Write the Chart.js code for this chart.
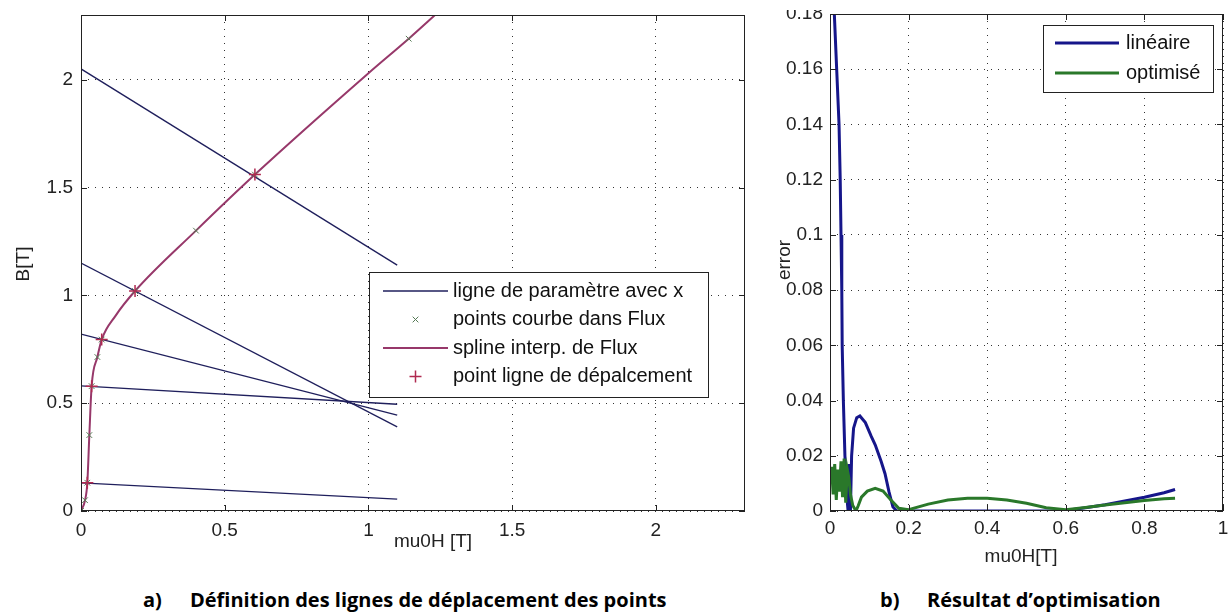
<!DOCTYPE html>
<html>
<head>
<meta charset="utf-8">
<script src="https://cdn.jsdelivr.net/npm/chart.js@4.4.1/dist/chart.umd.min.js"></script>
<style>
body{margin:0;background:#fff;width:1231px;height:613px;overflow:hidden;position:relative;}
#chartA{position:absolute;left:0;top:0;}
#chartB{position:absolute;left:760px;top:10px;}
.cap{position:absolute;top:591px;font-family:"Open Sans",sans-serif;font-weight:bold;font-size:20px;line-height:18px;color:#000;white-space:nowrap;}
</style>
</head>
<body>
<canvas id="chartA" width="760" height="570"></canvas>
<canvas id="chartB" width="471" height="560"></canvas>
<div class="cap" style="left:143px">a)</div>
<div class="cap" style="left:190px">Définition des lignes de déplacement des points</div>
<div class="cap" style="left:880px">b)</div>
<div class="cap" style="left:927px">Résultat d’optimisation</div>
<script>
// ---- a) displacement lines on the B(mu0H) curve ----
const xTicksA = [0, 0.5, 1, 1.5, 2];
const yTicksA = [0, 0.5, 1, 1.5, 2];

// straight parameter lines, all from mu0H = 0 to 1.1
const lineX = [0, 1.1];
const lineB = [
  [2.05, 1.14],
  [1.15, 0.39],
  [0.82, 0.445],
  [0.58, 0.495],
  [0.13, 0.055]
];

// spline through the flux curve
const splineX = [0, 0.014, 0.022, 0.029, 0.037, 0.057, 0.072, 0.12, 0.188, 0.4, 0.605, 1.0, 1.14, 1.24];
const splineB = [0, 0.05, 0.131, 0.352, 0.579, 0.714, 0.795, 0.905, 1.02, 1.30, 1.56, 2.03, 2.19, 2.31];

// curve points (x markers)
const fluxX = [0, 0.014, 0.022, 0.029, 0.037, 0.057, 0.072, 0.188, 0.4, 0.605, 1.14];
const fluxB = [0, 0.05, 0.131, 0.352, 0.579, 0.714, 0.795, 1.02, 1.30, 1.56, 2.19];

// where each parameter line meets the curve (+ markers)
const moveX = [0.022, 0.037, 0.072, 0.188, 0.605];
const moveB = [0.131, 0.579, 0.795, 1.02, 1.56];

// ---- b) error of the two fits ----
const xTicksB = [0, 0.2, 0.4, 0.6, 0.8, 1];
const yTicksB = [0, 0.02, 0.04, 0.06, 0.08, 0.1, 0.12, 0.14, 0.16, 0.18];

const linX = [0.004, 0.011, 0.017, 0.023, 0.026, 0.028, 0.030, 0.031, 0.034, 0.038, 0.043, 0.046, 0.048, 0.050, 0.052, 0.055, 0.060, 0.068, 0.076, 0.090, 0.105, 0.115, 0.130, 0.140, 0.150, 0.160, 0.170, 0.30, 0.45, 0.58, 0.60, 0.65, 0.70, 0.75, 0.80, 0.85, 0.878];
const linErr = [0.185, 0.18, 0.16, 0.14, 0.12, 0.10, 0.08, 0.06, 0.04, 0.02, 0.005, 0, 0.017, 0, 0, 0.02, 0.03, 0.0338, 0.0344, 0.032, 0.027, 0.024, 0.018, 0.0135, 0.007, 0.0015, 0, 0, 0, 0, 0.0002, 0.0012, 0.0023, 0.0036, 0.005, 0.0066, 0.0078];

const optX = [0, 0.004, 0.008, 0.012, 0.016, 0.020, 0.024, 0.028, 0.032, 0.036, 0.040, 0.044, 0.048, 0.052, 0.058, 0.066, 0.072, 0.080, 0.095, 0.115, 0.135, 0.155, 0.175, 0.20, 0.25, 0.30, 0.35, 0.40, 0.45, 0.50, 0.55, 0.60, 0.65, 0.70, 0.75, 0.80, 0.85, 0.878];
const optErr = [0.011, 0.016, 0.006, 0.017, 0.004, 0.015, 0.007, 0.018, 0.005, 0.019, 0.003, 0.015, 0.012, 0.006, 0.002, 0, 0.002, 0.005, 0.0072, 0.0082, 0.0072, 0.004, 0.001, 0.0005, 0.0025, 0.004, 0.0046, 0.0046, 0.004, 0.0028, 0.0012, 0.0005, 0.0013, 0.0022, 0.003, 0.0038, 0.0044, 0.0046];

const pts = (xs, ys) => xs.map((x, i) => ({x: x, y: ys[i]}));

Chart.defaults.font.family = '"Liberation Sans", Arial, sans-serif';
Chart.defaults.font.size = 19;
Chart.defaults.color = '#222';

function drawMarker(ctx, style, x, y, r) {
  ctx.beginPath();
  if (style === 'cross') {
    ctx.moveTo(x - r, y); ctx.lineTo(x + r, y);
    ctx.moveTo(x, y - r); ctx.lineTo(x, y + r);
  } else {
    const d = r * 0.7071;
    ctx.moveTo(x - d, y - d); ctx.lineTo(x + d, y + d);
    ctx.moveTo(x - d, y + d); ctx.lineTo(x + d, y - d);
  }
  ctx.stroke();
}

// box round the plot area, ticks pointing inwards, axis titles and boxed legend
const matlabAxes = {
  id: 'matlabAxes',
  afterDraw(chart, args, opts) {
    const {ctx, chartArea: a, scales: {x, y}} = chart;
    ctx.save();
    ctx.strokeStyle = '#222';
    ctx.lineWidth = 1;
    ctx.strokeRect(a.left + 0.5, a.top + 0.5, a.right - a.left - 1, a.bottom - a.top - 1);
    ctx.beginPath();
    x.ticks.forEach(t => {
      const px = Math.round(x.getPixelForValue(t.value)) + 0.5;
      ctx.moveTo(px, a.bottom); ctx.lineTo(px, a.bottom - 6);
      ctx.moveTo(px, a.top); ctx.lineTo(px, a.top + 6);
    });
    y.ticks.forEach(t => {
      const py = Math.round(y.getPixelForValue(t.value)) + 0.5;
      ctx.moveTo(a.left, py); ctx.lineTo(a.left + 6, py);
      ctx.moveTo(a.right, py); ctx.lineTo(a.right - 6, py);
    });
    ctx.stroke();

    // axis titles
    ctx.fillStyle = '#222';
    ctx.font = '19px "Liberation Sans", Arial, sans-serif';
    ctx.textAlign = 'center';
    ctx.textBaseline = 'middle';
    opts.titles.forEach(t => {
      ctx.save();
      ctx.translate(t.x, t.y);
      if (t.rotate) ctx.rotate(-Math.PI / 2);
      ctx.fillText(t.text, 0, 0);
      ctx.restore();
    });

    // legend
    const L = opts.legend;
    ctx.fillStyle = '#fff';
    ctx.fillRect(L.box[0], L.box[1], L.box[2] - L.box[0], L.box[3] - L.box[1]);
    ctx.strokeStyle = '#222';
    ctx.lineWidth = 1;
    ctx.strokeRect(L.box[0] + 0.5, L.box[1] + 0.5, L.box[2] - L.box[0], L.box[3] - L.box[1]);
    ctx.font = L.font;
    ctx.textAlign = 'left';
    L.items.forEach((it, i) => {
      const ds = chart.data.datasets[it.ds];
      const ry = L.rows[i];
      if (it.kind === 'line') {
        ctx.strokeStyle = ds.borderColor;
        ctx.lineWidth = ds.borderWidth;
        ctx.beginPath();
        ctx.moveTo(L.sample[0], ry); ctx.lineTo(L.sample[1], ry);
        ctx.stroke();
      } else {
        ctx.strokeStyle = ds.pointBorderColor;
        ctx.lineWidth = ds.pointBorderWidth;
        drawMarker(ctx, ds.pointStyle, (L.sample[0] + L.sample[1]) / 2, ry, ds.pointRadius);
      }
      ctx.fillStyle = '#111';
      ctx.fillText(ds.label, L.textX, ry);
    });
    ctx.restore();
  }
};

function axis(min, max, ticks, size, pad) {
  return {
    type: 'linear', min: min, max: max,
    afterBuildTicks: s => { s.ticks = ticks.map(v => ({value: v})); },
    afterFit: s => {
      if (s.isHorizontal()) s.height = size; else s.width = size;
      s.paddingLeft = s.paddingRight = s.paddingTop = s.paddingBottom = 0;
    },
    grid: {color: '#333', lineWidth: 1, drawTicks: false},
    border: {display: false, dash: [1, 6]},
    ticks: {padding: pad, autoSkip: false, maxRotation: 0, callback: v => String(v)}
  };
}

const navy = '#1f1f5c';
const lineSets = lineB.map(b => ({
  label: 'ligne de paramètre avec x',
  data: pts(lineX, b),
  showLine: true, borderColor: navy, borderWidth: 1.3, pointRadius: 0, order: 3
}));

new Chart(document.getElementById('chartA'), {
  type: 'scatter',
  data: {
    datasets: [
      ...lineSets,
      {label: 'points courbe dans Flux', data: pts(fluxX, fluxB), showLine: false,
       pointStyle: 'crossRot', pointRadius: 4, pointBorderWidth: 1, pointBorderColor: '#557a55', order: 1},
      {label: 'spline interp. de Flux', data: pts(splineX, splineB), showLine: true,
       cubicInterpolationMode: 'monotone', borderColor: '#97386a', borderWidth: 2, pointRadius: 0, order: 2},
      {label: 'point ligne de dépalcement', data: pts(moveX, moveB), showLine: false,
       pointStyle: 'cross', pointRadius: 6, pointBorderWidth: 1.5, pointBorderColor: '#b02a50', order: 0}
    ]
  },
  options: {
    responsive: false, animation: false, events: [],
    layout: {padding: {left: 0, top: 15, right: 15, bottom: 0}},
    scales: {
      x: axis(0, 2.31, xTicksA, 59, 8),
      y: axis(0, 2.3, yTicksA, 81, 8)
    },
    plugins: {
      legend: {display: false}, tooltip: {enabled: false},
      matlabAxes: {
        titles: [
          {text: 'B[T]', x: 24, y: 264, rotate: true},
          {text: 'mu0H [T]', x: 433, y: 542}
        ],
        legend: {
          box: [369, 272, 708, 397], rows: [291, 319.5, 348, 376.5],
          sample: [383, 448], textX: 453, font: '20px "Liberation Sans", Arial, sans-serif',
          items: [{ds: 0, kind: 'line'}, {ds: 5, kind: 'point'}, {ds: 6, kind: 'line'}, {ds: 7, kind: 'point'}]
        }
      }
    }
  },
  plugins: [matlabAxes]
});

new Chart(document.getElementById('chartB'), {
  type: 'scatter',
  data: {
    datasets: [
      {label: 'linéaire', data: pts(linX, linErr), showLine: true, borderColor: '#16168a', borderWidth: 3, pointRadius: 0, order: 1},
      {label: 'optimisé', data: pts(optX, optErr), showLine: true, borderColor: '#2a782a', borderWidth: 3, pointRadius: 0, order: 0}
    ]
  },
  options: {
    responsive: false, animation: false, events: [],
    layout: {padding: {left: 0, top: 4, right: 8, bottom: 0}},
    scales: {
      x: axis(0, 1, xTicksB, 59, 6),
      y: axis(0, 0.18, yTicksB, 70, 7)
    },
    plugins: {
      legend: {display: false}, tooltip: {enabled: false},
      matlabAxes: {
        titles: [
          {text: 'error', x: 25, y: 250, rotate: true},
          {text: 'mu0H[T]', x: 261, y: 547}
        ],
        legend: {
          box: [283, 15, 453, 82], rows: [33, 63],
          sample: [295, 359], textX: 366, font: '20px "Liberation Sans", Arial, sans-serif',
          items: [{ds: 0, kind: 'line'}, {ds: 1, kind: 'line'}]
        }
      }
    }
  },
  plugins: [matlabAxes]
});
</script>
</body>
</html>
